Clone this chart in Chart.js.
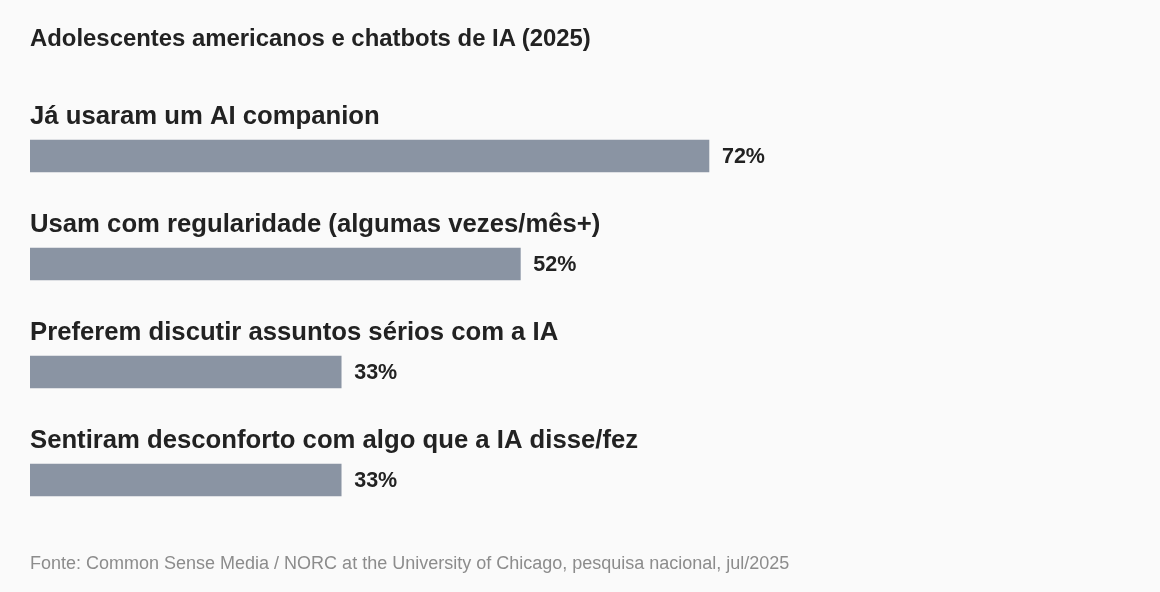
<!DOCTYPE html>
<html>
<head>
<meta charset="utf-8">
<script src="https://cdn.jsdelivr.net/npm/chart.js@4"></script>
<style>
  html, body { margin: 0; padding: 0; background: #fafafa; }
  body { width: 1160px; height: 592px; position: relative; overflow: hidden; font-family: "Liberation Sans", Arial, sans-serif; }
  #title { position: absolute; left: 30px; top: 26px; font-size: 23.9px; line-height: 24px; font-weight: bold; color: #222; }
  #source { position: absolute; left: 30px; top: 554px; font-size: 18px; line-height: 18px; color: #8c8c8c; }
  #wrap { position: absolute; left: 0; top: 0; width: 1160px; height: 592px; }
</style>
</head>
<body>
<div id="wrap"><canvas id="chart"></canvas></div>
<div id="title">Adolescentes americanos e chatbots de IA (2025)</div>
<div id="source">Fonte: Common Sense Media / NORC at the University of Chicago, pesquisa nacional, jul/2025</div>
<script>
// Data
const categories = [
    'Já usaram um AI companion',
    'Usam com regularidade (algumas vezes/mês+)',
    'Preferem discutir assuntos sérios com a IA',
    'Sentiram desconforto com algo que a IA disse/fez'
];
const values = [72, 52, 33, 33];

const barColor = '#8a94a3';
const textColor = '#222222';
const fontFamily = '"Liberation Sans", Arial, sans-serif';

// Draws the category names above each bar and the percentages after them
const labelPlugin = {
    id: 'barLabels',
    afterDatasetsDraw(chart) {
        const ctx = chart.ctx;
        const meta = chart.getDatasetMeta(0);
        ctx.save();
        meta.data.forEach((bar, i) => {
            const top = bar.y - bar.height / 2;
            ctx.fillStyle = textColor;
            ctx.textBaseline = 'alphabetic';
            ctx.textAlign = 'left';
            ctx.font = 'bold 25.7px ' + fontFamily;
            ctx.fillText(categories[i], chart.chartArea.left, top - 16);

            ctx.font = 'bold 21.5px ' + fontFamily;
            ctx.textBaseline = 'middle';
            ctx.fillText(values[i] + '%', bar.x + 13, bar.y + 1);
        });
        ctx.restore();
    }
};

const ctx = document.getElementById('chart').getContext('2d');
const chart = new Chart(ctx, {
    type: 'bar',
    data: {
        labels: categories,
        datasets: [{
            data: values,
            backgroundColor: barColor,
            barThickness: 32,
            borderWidth: 0
        }]
    },
    options: {
        indexAxis: 'y',
        responsive: true,
        maintainAspectRatio: false,
        animation: false,
        layout: { padding: { left: 30, right: 187, top: 102, bottom: 58 } },
        plugins: {
            legend: { display: false },
            tooltip: { enabled: false }
        },
        scales: {
            x: { display: false, min: 0, max: 100 },
            y: { display: false }
        }
    },
    plugins: [labelPlugin]
});
</script>
</body>
</html>
